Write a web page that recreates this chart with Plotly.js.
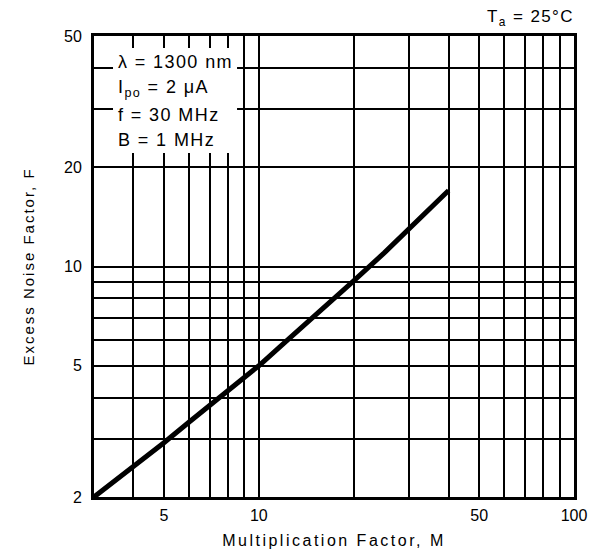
<!DOCTYPE html>
<html>
<head>
<meta charset="utf-8">
<script src="https://cdn.plot.ly/plotly-3.0.1.min.js"></script>
<style>
  html, body { margin: 0; padding: 0; background: #fff; }
  #chart { width: 605px; height: 559px; }
  text.xtitle { letter-spacing: 2.5px; }
  text.ytitle { letter-spacing: 2px; }
  .annotation-text { letter-spacing: 1.4px; }
</style>
</head>
<body>
<div id="chart"></div>
<script>
// Curve (Multiplication Factor M vs Excess Noise Factor F)
const multFactor  = [3, 4, 5, 6, 7, 8, 10, 12, 15, 20, 25, 30, 35, 40];
const noiseFactor = [2.0, 2.47, 2.92, 3.37, 3.8, 4.2, 5.0, 5.85, 7.05, 9.05, 11.0, 13.0, 15.0, 17.0];

// Axis ticks / grid
const xTickVals  = [3, 4, 5, 6, 7, 8, 9, 10, 20, 30, 40, 50, 60, 70, 80, 90, 100];
const xTickText  = ['', '', '5', '', '', '', '', '10', '', '', '', '50', '', '', '', '', '100'];
const yTickVals  = [2, 3, 4, 5, 6, 7, 8, 9, 10, 20, 30, 40, 50];
const yTickText  = ['2', '', '', '5', '', '', '', '', '10', '20', '', '', '50'];

// Texts
const conditionLines = ['λ = 1300 nm', 'I<sub>po</sub> = 2 μA', 'f = 30 MHz', 'B = 1 MHz'];
const tempLabel = 'T<sub>a</sub> = 25°C';
const xTitle = 'Multiplication Factor, M';
const yTitle = 'Excess Noise Factor, F';

const FONT = 'Liberation Sans, Arial, Helvetica, sans-serif';

const trace = {
  x: multFactor,
  y: noiseFactor,
  type: 'scatter',
  mode: 'lines',
  line: { color: '#000', width: 5 },
  hoverinfo: 'skip',
  showlegend: false
};

const condY = [0.9436, 0.887, 0.8286, 0.7744];
const annotations = conditionLines.map((t, i) => ({
  text: t, xref: 'paper', yref: 'paper', x: 0.046, y: condY[i],
  xanchor: 'left', yanchor: 'middle', showarrow: false,
  font: { family: FONT, size: 18, color: '#000' }
}));
annotations.push({
  text: tempLabel, xref: 'paper', yref: 'paper', x: 1.005, y: 1.038,
  xanchor: 'right', yanchor: 'middle', showarrow: false,
  font: { family: FONT, size: 17, color: '#000' }
});

const layout = {
  width: 605, height: 559,
  margin: { l: 94, r: 31, t: 36, b: 62 },
  paper_bgcolor: '#fff', plot_bgcolor: '#fff',
  font: { family: FONT, color: '#000' },
  showlegend: false,
  xaxis: {
    type: 'log',
    range: [Math.log10(3), 2],
    tickmode: 'array', tickvals: xTickVals, ticktext: xTickText,
    ticks: '', ticklabelstandoff: 2,
    tickfont: { family: FONT, size: 16, color: '#000' },
    showgrid: true, gridcolor: '#000', gridwidth: 2,
    showline: true, linecolor: '#000', linewidth: 3, mirror: true,
    zeroline: false, fixedrange: true,
    title: { text: xTitle, font: { family: FONT, size: 16, color: '#000' }, standoff: 12 }
  },
  yaxis: {
    type: 'log',
    range: [Math.log10(2), Math.log10(50)],
    tickmode: 'array', tickvals: yTickVals, ticktext: yTickText,
    ticks: '', ticklabelstandoff: 6,
    tickfont: { family: FONT, size: 16, color: '#000' },
    showgrid: true, gridcolor: '#000', gridwidth: 2,
    showline: true, linecolor: '#000', linewidth: 3, mirror: true,
    zeroline: false, fixedrange: true,
    title: { text: yTitle, font: { family: FONT, size: 15, color: '#000' }, standoff: 26 }
  },
  shapes: [{
    type: 'rect', xref: 'paper', yref: 'paper',
    x0: 0.0396, x1: 0.298, y0: 0.746, y1: 0.974,
    fillcolor: '#fff', line: { width: 0 }, layer: 'above'
  }],
  annotations: annotations
};

Plotly.newPlot('chart', [trace], layout, { displayModeBar: false, staticPlot: true });
</script>
</body>
</html>
